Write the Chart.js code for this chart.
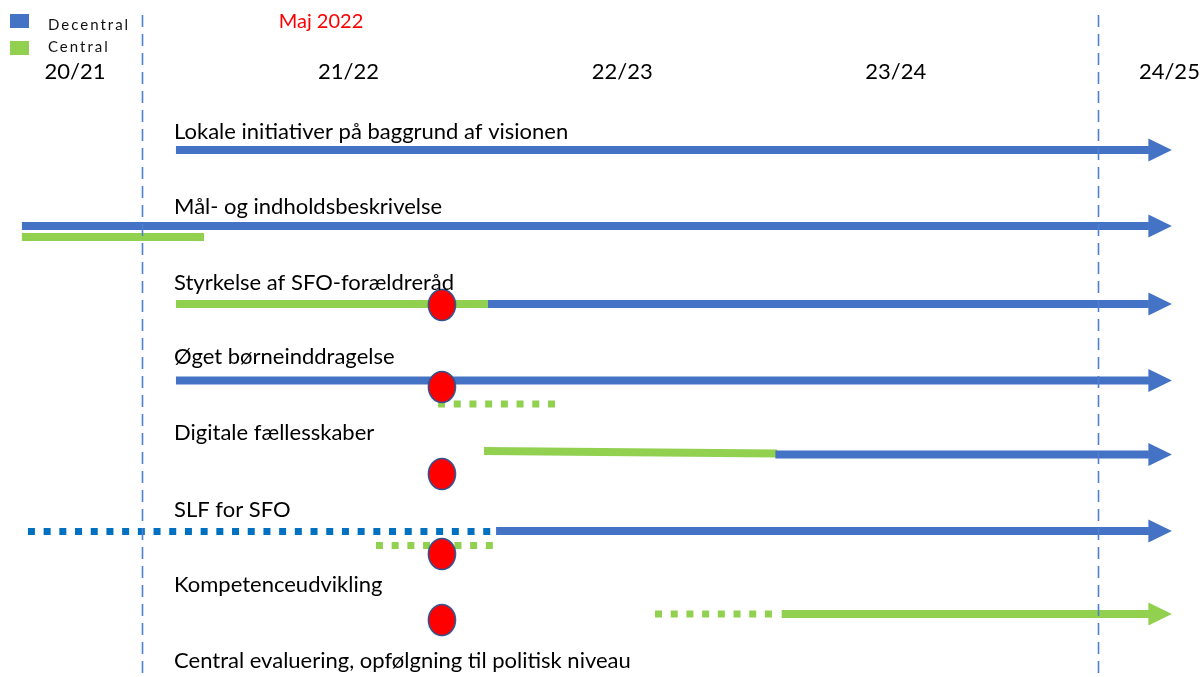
<!DOCTYPE html>
<html><head><meta charset="utf-8">
<script src="https://cdn.jsdelivr.net/npm/chart.js@4.4.1/dist/chart.umd.min.js"></script>
<style>html,body{margin:0;padding:0;background:#fff;overflow:hidden}#wrap{width:1203px;height:677px;position:relative}</style>
</head><body><div id="wrap"><canvas id="c"></canvas></div>
<script>
// ---- DATA ----
const yearLabels = ['20/21', '21/22', '22/23', '23/24', '24/25'];
const yearValues = [0, 1, 2, 3, 4];
const seriesNames = ['Decentral', 'Central'];
const activityLabels = [
  'Lokale initiativer på baggrund af visionen',
  'Mål- og indholdsbeskrivelse',
  'Styrkelse af SFO-forældreråd',
  'Øget børneinddragelse',
  'Digitale fællesskaber',
  'SLF for SFO',
  'Kompetenceudvikling',
  'Central evaluering, opfølgning til politisk niveau'
];
const activityLabelRows = [-0.235, 0.745, 1.739, 2.706, 3.699, 4.706, 5.686, 6.68];
const activityLabelStart = 0.362;
const periodBoundaries = [0.245, 3.739];
const milestoneLabel = 'Maj 2022';
const milestoneLabelX = 0.899;
const milestoneX = 1.341;
const milestoneRows = [2.026, 3.098, 4.235, 5.281, 6.144];
// segments: [start, end, rowAtStart, rowAtEnd, continuesBeyond]
const decentralSolid = [
  [0.369, 3.925, 0, 0, true],
  [-0.194, 3.925, 0.993, 0.993, true],
  [1.5095, 3.925, 2.013, 2.013, true],
  [0.369, 3.925, 3.013, 3.013, true],
  [2.56, 3.925, 3.98, 3.98, true],
  [1.539, 3.925, 4.98, 4.98, true]
];
const decentralPlanned = [
  [-0.172, 1.528, 4.987, 4.987, false]
];
const centralSolid = [
  [-0.194, 0.4715, 1.137, 1.137, false],
  [0.369, 1.5095, 2.013, 2.013, false],
  [1.495, 2.566, 3.935, 3.967, false],
  [2.583, 3.925, 6.065, 6.065, true]
];
const centralPlanned = [
  [1.327, 1.756, 3.32, 3.32, false],
  [1.1, 1.531, 5.17, 5.17, false],
  [2.12, 2.551, 6.065, 6.065, false]
];

// ---- STYLE ----
const BLUE = '#4472C4', BLUE_DOT = '#0070C0', GREEN = '#92D050';
const FONT = 'Lato, "Noto Sans", sans-serif';
const groups = [
  {data: decentralSolid, color: BLUE, dash: [], width: 8},
  {data: decentralPlanned, color: BLUE_DOT, dash: [7, 8.7], width: 7},
  {data: centralSolid, color: GREEN, dash: [], width: 8},
  {data: centralPlanned, color: GREEN, dash: [7, 8.7], width: 7}
];

const datasets = [];
groups.forEach(g => g.data.forEach(s => {
  datasets.push({
    data: [{x: s[0], y: s[2]}, {x: s[1], y: s[3]}],
    borderColor: g.color, borderWidth: g.width, borderDash: g.dash,
    borderCapStyle: 'butt', pointRadius: 0, fill: false, order: 2, clip: false
  });
}));

const ell = document.createElement('canvas');
ell.width = 32; ell.height = 36;
(function(){
  const c = ell.getContext('2d');
  c.beginPath(); c.ellipse(16, 18, 13.5, 15.5, 0, 0, Math.PI * 2);
  c.fillStyle = '#FF0000'; c.fill();
  c.lineWidth = 1.6; c.strokeStyle = '#2F528F'; c.stroke();
})();
datasets.push({
  data: milestoneRows.map(r => ({x: milestoneX, y: r})),
  showLine: false, pointStyle: ell, pointRadius: 15, order: 0, clip: false
});

const decor = {
  id: 'decor',
  afterDatasetsDraw(chart) {
    const {ctx, scales: {x, y}} = chart;
    ctx.save();
    // arrowheads
    groups.forEach(g => g.data.forEach(s => {
      if (!s[4]) return;
      const bx = x.getPixelForValue(s[1]), by = y.getPixelForValue(s[3]);
      ctx.beginPath();
      ctx.moveTo(bx - 0.5, by - 11.5);
      ctx.lineTo(bx + 23, by);
      ctx.lineTo(bx - 0.5, by + 11.5);
      ctx.closePath();
      ctx.fillStyle = g.color; ctx.fill();
    }));
    // period boundaries
    ctx.strokeStyle = '#4F7FD0'; ctx.lineWidth = 1.6; ctx.setLineDash([12, 7]);
    periodBoundaries.forEach(v => {
      const px = Math.round(x.getPixelForValue(v)) + 0.5;
      ctx.beginPath(); ctx.moveTo(px, 15); ctx.lineTo(px, chart.height); ctx.stroke();
    });
    ctx.setLineDash([]);
    // texts
    ctx.fillStyle = '#000'; ctx.textBaseline = 'middle';
    ctx.font = '22px ' + FONT; ctx.textAlign = 'left';
    activityLabels.forEach((t, i) => {
      ctx.fillText(t, x.getPixelForValue(activityLabelStart), y.getPixelForValue(activityLabelRows[i]));
    });
    ctx.font = '22px ' + FONT; ctx.textAlign = 'center';
    yearLabels.forEach((t, i) => ctx.fillText(t, x.getPixelForValue(yearValues[i]), 72));
    ctx.fillStyle = '#FF0000'; ctx.font = '20px ' + FONT;
    ctx.fillText(milestoneLabel, x.getPixelForValue(milestoneLabelX), 22);
    // legend
    ctx.textAlign = 'left'; ctx.font = '15px ' + FONT;
    try { ctx.letterSpacing = '2px'; } catch (e) {}
    const legendColors = [BLUE, GREEN];
    seriesNames.forEach((n, i) => {
      ctx.fillStyle = legendColors[i];
      ctx.fillRect(10, 14 + i * 27, 19, 14);
      ctx.fillStyle = '#111';
      ctx.fillText(n, 48, 25 + i * 22);
    });
    ctx.restore();
  }
};

new Chart(document.getElementById('c'), {
  type: 'line',
  data: {datasets},
  options: {
    responsive: true, maintainAspectRatio: false, animation: false,
    layout: {padding: 0, autoPadding: false},
    plugins: {legend: {display: false}, tooltip: {enabled: false}},
    elements: {line: {tension: 0}},
    scales: {
      x: {type: 'linear', display: false, min: -0.2741, max: 4.1228},
      y: {type: 'linear', display: false, min: -1.9608, max: 6.8889, reverse: true}
    }
  },
  plugins: [decor]
});
</script></body></html>
